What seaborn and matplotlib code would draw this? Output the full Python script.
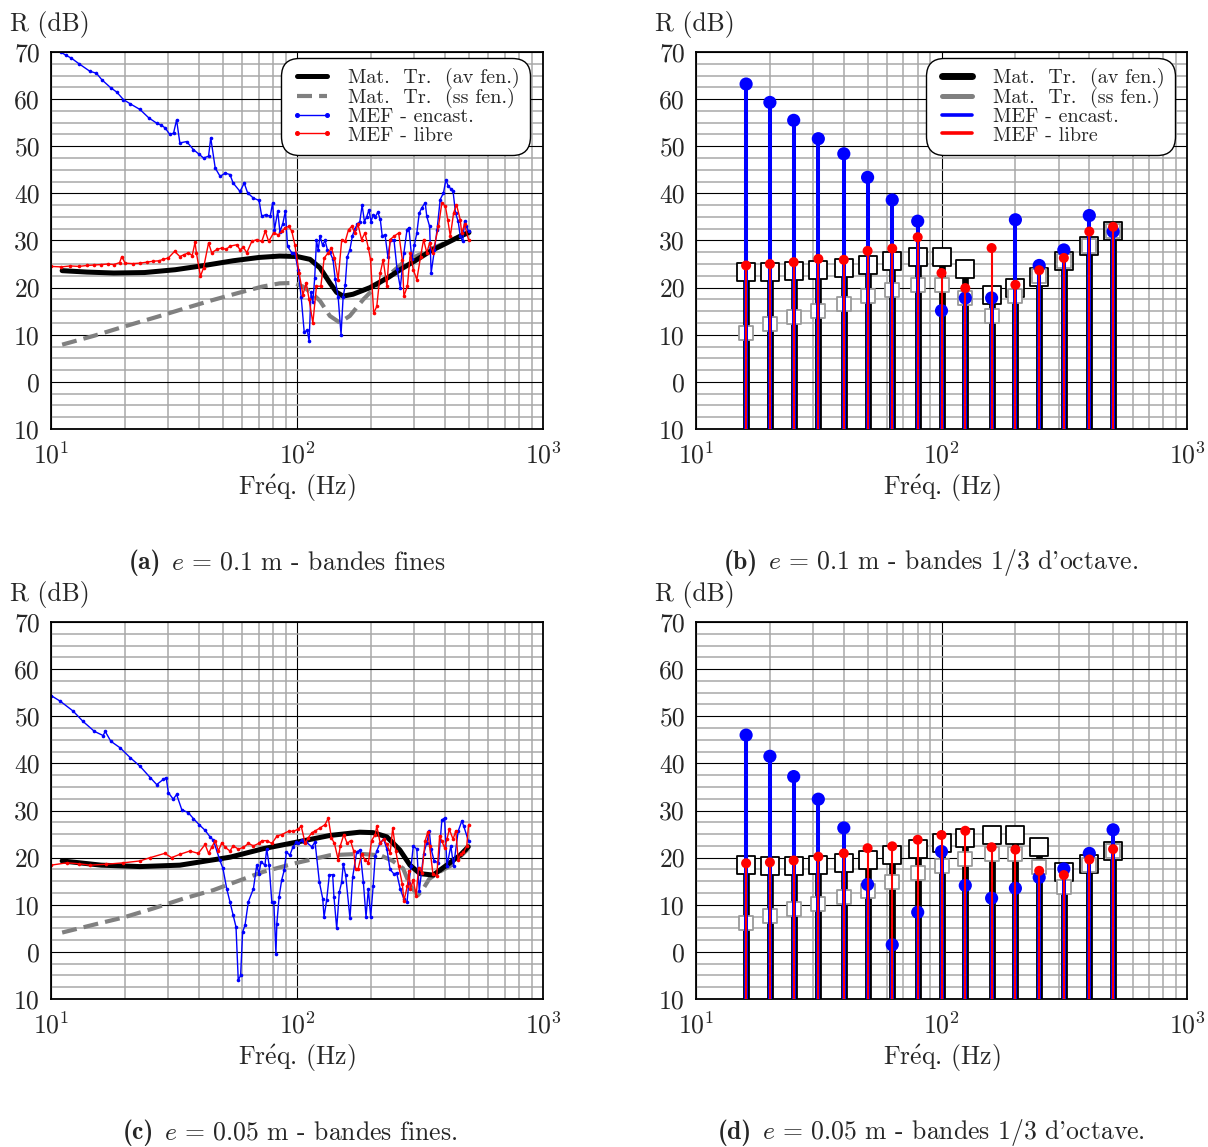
import numpy as np
import seaborn as sns
import matplotlib.pyplot as plt
from matplotlib.lines import Line2D
from matplotlib.ticker import (LogLocator, MultipleLocator, FuncFormatter,
                               LogFormatterMathtext, NullFormatter)

sns.set_style("white")
plt.rcParams["font.family"] = ["cmr10", "DejaVu Serif"]
plt.rcParams["mathtext.fontset"] = "cm"
plt.rcParams["axes.formatter.use_mathtext"] = True


# ---- (a) e = 0.1 m, fine bands ----
fa_black = [11.1, 14, 18, 24, 32, 42, 55, 70, 85, 100, 113, 124, 136, 145, 154, 169,
            198, 234, 270, 300, 347, 400, 460, 500]
ra_black = [23.6, 23.3, 23.1, 23.2, 23.8, 24.7, 25.7, 26.4, 26.7, 26.6, 26.0, 24.2,
            21.0, 19.0, 18.2, 18.6, 20.0, 22.1, 24.2, 25.6, 27.7, 29.3, 30.9, 31.7]
fa_gray = [11.1, 15, 20, 27, 35, 45, 58, 72, 85, 97, 106, 116, 124, 136, 149, 164,
           186, 217, 270, 347, 430, 497]
ra_gray = [7.9, 9.8, 11.8, 13.8, 15.6, 17.3, 18.9, 20.2, 20.9, 21.0, 20.2, 18.6, 17.2,
           14.0, 12.6, 14.0, 17.5, 21.0, 25.3, 28.1, 30.2, 31.6]
fa_blue = [10.95, 11.5, 12.1, 13, 14.4, 15.3, 16.1, 17.5, 18.5, 19.7, 21, 23, 25, 26.9,
           28, 29.1, 30.4, 31.5, 32.4, 33.4, 35.6, 37.9, 40, 41.7, 43.7, 44.6, 46.5,
           48.7, 51, 53.4, 55, 58.7, 61, 63, 66.5, 70.1, 71.9, 74.5, 77.8, 79.6, 81,
           83.5, 85.2, 87.5, 89.7, 91.5, 95.2, 98, 101, 104, 107, 110, 112, 114, 116,
           118, 120, 122, 124, 127, 130, 133, 136, 140, 143, 147, 151, 154, 157, 160,
           164, 168, 172, 176, 180, 184, 188, 192, 196, 200, 204, 208, 213, 218, 222,
           228, 234, 240, 248, 255, 263, 272, 280, 285, 293, 300, 307, 314, 322, 332,
           337, 346, 351, 362, 371, 382, 394, 403, 412, 422, 431, 441, 452, 461, 472,
           480, 488, 498]
ra_blue = [70.0, 69.3, 68.7, 67.5, 65.9, 65.5, 64.1, 62.4, 61.5, 59.9, 59.0, 57.8, 56.0,
           54.9, 54.5, 53.9, 52.5, 52.8, 55.6, 50.7, 51.0, 49.3, 48.3, 47.5, 47.9, 51.8,
           45.4, 43.6, 44.3, 44.0, 42.2, 40.4, 42.2, 40.1, 39.0, 38.5, 35.1, 35.5, 35.1,
           38.0, 32.3, 36.2, 31.9, 33.5, 36.2, 28.8, 27.4, 27.4, 23.8, 18.0, 10.5, 11.0,
           8.7, 19.0, 17.0, 22.0, 30.0, 28.0, 31.0, 29.0, 30.0, 28.0, 27.5, 26.0, 21.8,
           18.0, 10.0, 18.0, 20.5, 26.5, 28.0, 31.0, 32.5, 33.5, 34.0, 37.5, 34.0, 35.0,
           36.5, 34.0, 35.5, 35.0, 36.0, 34.5, 31.0, 31.2, 26.6, 30.2, 30.0, 24.0, 20.0,
           27.4, 32.3, 32.7, 26.0, 29.0, 31.6, 35.8, 37.0, 38.0, 35.1, 33.0, 23.1, 28.0,
           32.3, 38.7, 40.1, 42.9, 41.5, 41.0, 40.4, 35.8, 34.1, 30.9, 29.8, 34.1, 33.0,
           32.0]
fa_red = [10, 11, 12, 13, 14, 15, 16, 17, 18, 19, 19.4, 20, 21.5, 23, 24.5, 26, 27.5,
          28.6, 30, 31.8, 33.4, 34.8, 36.2, 37.5, 38.5, 39, 40.5, 41.7, 43.7, 45, 47.2,
          49.4, 51.5, 53.4, 56.9, 58.7, 60.5, 62.5, 65.5, 68.6, 71.9, 74.3, 76.7, 80.3,
          84, 87, 89.7, 92.5, 95.2, 98, 102, 105.7, 109, 112, 116, 120, 125, 129, 134,
          138, 142, 147, 152, 157, 162, 167, 172, 177, 183, 189, 195, 199, 205, 211, 218,
          224, 232, 239, 248, 259, 268, 272, 281, 289, 297, 307, 318, 327, 337, 346, 357,
          376, 388, 401, 410, 420, 433, 445, 461, 467, 480, 498]
ra_red = [24.5, 24.4, 24.6, 24.5, 24.7, 24.8, 24.9, 25.0, 24.9, 25.3, 26.6, 25.2, 25.1,
          25.2, 25.4, 25.6, 25.7, 26.0, 26.3, 27.7, 26.6, 27.0, 27.4, 26.8, 29.6, 27.4,
          22.4, 24.2, 29.5, 27.4, 28.1, 28.4, 28.1, 28.8, 29.1, 28.0, 28.6, 27.4, 29.8,
          30.2, 29.8, 32.0, 29.8, 31.6, 31.2, 32.0, 32.7, 33.0, 32.0, 29.1, 23.1, 18.5,
          21.0, 17.5, 12.5, 20.3, 20.3, 26.3, 27.4, 28.4, 26.3, 21.7, 30.2, 29.8, 32.3,
          33.0, 31.6, 33.4, 30.2, 31.6, 28.4, 26.0, 14.6, 16.0, 23.1, 25.9, 20.3, 30.2,
          30.9, 31.6, 25.9, 18.2, 20.3, 27.4, 23.8, 21.7, 26.6, 30.2, 27.4, 29.5, 27.4,
          33.0, 38.0, 37.3, 34.4, 30.9, 35.8, 37.6, 34.4, 31.6, 33.4, 30.2]

# ---- (c) e = 0.05 m, fine bands ----
fc_black = [11.1, 16, 23, 33.4, 53.5, 73, 100, 136, 180, 204, 232, 262, 288, 316, 358,
            406, 460, 497]
rc_black = [19.3, 18.4, 18.1, 18.4, 20.1, 21.9, 23.3, 24.7, 25.4, 25.3, 24.4, 21.6, 18.4,
            16.6, 16.3, 18.4, 20.5, 22.3]
fc_gray = [11.1, 15, 19.7, 26, 34.5, 45.7, 58, 73, 100, 136, 180, 218, 245, 270, 288,
           310, 326, 345, 380, 425, 497]
rc_gray = [4.1, 5.8, 7.3, 9.2, 11.3, 13.1, 15.1, 17.0, 18.9, 20.5, 20.8, 20.5, 19.3, 17.7,
           14.1, 12.0, 13.4, 15.5, 17.0, 18.4, 21.9]
fc_blue = [10, 10.9, 12.3, 13.5, 15, 16.3, 16.6, 17.5, 19.1, 21, 23, 25.3, 26.9, 28.6,
           29.4, 30, 31.4, 32.4, 34, 36.2, 37.9, 40, 42.3, 44.3, 45.7, 48.6, 50, 51.8,
           53.4, 55, 56.5, 57.7, 59, 60.1, 61.5, 63.4, 66.5, 68.6, 70, 71.4, 74.1, 75.3,
           77, 79, 80.5, 82.1, 82.8, 84.6, 86.6, 88.7, 90.6, 93.5, 96.3, 99.5, 101.3,
           104.4, 106.5, 109, 114.8, 118.4, 123.3, 127.2, 128.8, 132, 135.3, 139.6,
           141.3, 145, 148.6, 151.9, 154.2, 157.7, 164.2, 168.4, 174.8, 180.3, 186.1,
           190.8, 195, 199.3, 204, 208, 211, 218, 225, 232, 239, 248, 254, 263, 272, 280,
           285, 291, 297, 307, 314, 327, 337, 345, 351, 361, 376, 388, 398, 407, 422, 433,
           452, 468, 476, 498]
rc_blue = [54.4, 53.2, 51.1, 48.9, 46.8, 45.9, 46.8, 44.7, 43.3, 41.2, 39.4, 37.0, 35.5,
           36.6, 37.0, 33.8, 32.4, 33.4, 30.2, 29.5, 28.3, 27.0, 25.8, 24.4, 23.7, 19.4,
           17.7, 13.4, 10.6, 7.8, 5.3, -6.0, -5.0, 4.2, 5.7, 10.6, 13.4, 18.4, 16.6, 19.1,
           18.4, 21.9, 18.5, 10.6, 10.6, -0.4, 6.0, 11.7, 15.2, 17.3, 21.2, 20.5, 22.3,
           23.3, 23.0, 23.7, 23.3, 23.3, 22.3, 23.3, 14.8, 11.3, 7.4, 11.0, 16.3, 16.4,
           11.7, 5.0, 12.7, 14.8, 18.7, 16.3, 7.1, 15.9, 21.2, 21.6, 14.8, 7.4, 13.4, 7.4,
           14.0, 20.4, 21.4, 23.2, 23.9, 21.8, 17.5, 16.5, 16.8, 13.3, 11.2, 10.5, 14.7,
           18.2, 22.5, 21.8, 12.9, 20.7, 23.2, 25.6, 21.8, 19.3, 18.9, 28.0, 28.4, 18.2,
           22.5, 18.2, 25.6, 27.8, 26.7, 23.5]
fc_red = [10, 11.6, 13, 14.4, 16.8, 19.7, 23, 25.3, 29, 30.9, 33.4, 36.7, 39.7, 42.3,
          43.7, 45, 46.5, 47.9, 49.5, 51, 53.4, 55, 57.8, 60.6, 63.5, 66.5, 69.8, 72,
          75.5, 79, 83, 86.7, 92.5, 96.7, 101, 104, 108, 111, 115, 118, 124, 130, 134,
          138, 142, 147, 150, 155, 160, 165, 170, 173, 177, 183, 189, 195, 201, 208, 211,
          218, 225, 232, 239, 245, 252, 259, 268, 272, 281, 285, 289, 297, 305, 312, 322,
          332, 340, 346, 357, 370, 380, 388, 398, 407, 416, 431, 442, 452, 463, 475, 490,
          498]
rc_red = [18.4, 18.9, 18.7, 18.4, 18.6, 18.9, 19.3, 20.0, 20.9, 20.0, 20.7, 21.4, 20.9,
          22.8, 20.9, 22.2, 23.6, 21.4, 23.2, 22.2, 21.4, 22.5, 21.8, 22.2, 23.0, 22.5,
          23.0, 23.6, 23.6, 23.0, 24.6, 24.9, 25.6, 25.6, 26.0, 26.7, 23.0, 24.2, 25.3,
          25.6, 26.3, 27.0, 28.4, 24.2, 23.0, 19.6, 22.5, 24.9, 23.0, 23.6, 21.4, 17.5,
          17.5, 20.7, 19.6, 18.9, 23.6, 24.9, 26.7, 23.0, 23.9, 22.8, 20.9, 26.3, 21.4,
          18.2, 14.4, 10.8, 14.0, 17.2, 13.3, 15.3, 11.8, 17.9, 16.8, 23.6, 25.4, 22.5,
          16.5, 16.1, 24.6, 23.5, 22.1, 23.9, 26.0, 23.9, 25.7, 19.6, 20.7, 21.1, 22.5,
          26.9]

# ---- third-octave bands, (b) and (d) ----
bands = [16, 20, 25, 31.5, 40, 50, 63, 80, 100, 125, 160, 200, 250, 315, 400, 500]
b_av = [23.3, 23.3, 23.5, 23.7, 24.2, 24.9, 25.7, 26.4, 26.4, 24.0, 18.5, 19.9, 22.2, 25.6, 28.9, 32.1]
b_ss = [10.4, 12.3, 13.8, 15.1, 16.5, 18.2, 19.6, 20.6, 20.6, 17.8, 13.9, 18.3, 22.4, 25.6, 28.9, 32.1]
b_enc = [63.2, 59.3, 55.5, 51.6, 48.4, 43.4, 38.6, 34.1, 15.1, 17.8, 17.8, 34.4, 24.7, 28.0, 35.3, 31.9]
b_lib = [24.7, 25.0, 25.4, 26.1, 25.9, 27.8, 28.3, 30.7, 23.1, 19.9, 28.4, 20.6, 23.7, 26.3, 31.9, 32.9]
d_av = [18.4, 18.2, 18.3, 18.4, 18.9, 19.6, 20.6, 21.8, 23.1, 24.1, 24.9, 24.9, 22.3, 16.9, 18.7, 21.3]
d_ss = [6.2, 7.7, 9.1, 10.2, 11.6, 13.0, 14.9, 16.8, 18.3, 19.7, 20.8, 20.8, 18.0, 13.7, 18.4, 21.3]
d_enc = [46.0, 41.5, 37.2, 32.4, 26.3, 14.3, 1.5, 8.4, 21.3, 14.1, 11.4, 13.5, 15.8, 17.6, 20.9, 25.9]
d_lib = [18.8, 19.0, 19.4, 20.2, 20.9, 22.0, 22.4, 23.8, 24.8, 25.7, 22.2, 21.7, 17.2, 16.3, 19.6, 21.8]

labels = ["Mat.  Tr.  (av fen.)", "Mat.  Tr.  (ss fen.)", "MEF - encast.", "MEF - libre"]
cap_tags = ["(a)", "(b)", "(c)", "(d)"]
cap_texts = [r"$e\, =\, 0.1$ m - bandes fines",
             r"$e\, =\, 0.1$ m - bandes 1/3 d'octave.",
             r"$e\, =\, 0.05$ m - bandes fines.",
             r"$e\, =\, 0.05$ m - bandes 1/3 d'octave."]

GRAY = "#808080"
DASH = (0, (3.6, 1.7))
FS = 18.5

W, H = 1208, 1147
fig = plt.figure(figsize=(W / 100, H / 100), dpi=100)


def make_axes(x0, y0, x1, y1):
    return fig.add_axes([x0 / W, 1 - y1 / H, (x1 - x0) / W, (y1 - y0) / H])


def style(ax):
    ax.set_xscale("log")
    ax.set_xlim(10, 1000)
    ax.set_ylim(-10, 70)
    ax.xaxis.set_major_locator(LogLocator(base=10, numticks=5))
    ax.xaxis.set_minor_locator(LogLocator(base=10, subs=np.arange(2, 10), numticks=20))
    ax.xaxis.set_major_formatter(LogFormatterMathtext())
    ax.xaxis.set_minor_formatter(NullFormatter())
    ax.yaxis.set_major_locator(MultipleLocator(10))
    ax.yaxis.set_minor_locator(MultipleLocator(2.5))
    ax.yaxis.set_major_formatter(FuncFormatter(lambda v, p: f"{abs(v):.0f}"))
    ax.grid(which="minor", color="#a8a8a8", lw=1.1)
    ax.grid(which="major", color="black", lw=0.8)
    ax.set_axisbelow(True)
    ax.tick_params(which="both", length=0, labelsize=FS)
    ax.tick_params(axis="x", pad=9)
    ax.tick_params(axis="y", pad=8)
    for s in ax.spines.values():
        s.set_color("black")
        s.set_linewidth(1.3)
    ax.set_xlabel(r"Fr$\acute{\mathrm{e}}$q. (Hz)", fontsize=FS, labelpad=3)
    ax.set_ylabel("")


def add_legend(ax, handles, right_px):
    leg = ax.legend(handles, labels, loc="upper right",
                    bbox_to_anchor=(right_px / W, 1 - 58 / H),
                    bbox_transform=fig.transFigure, fontsize=14.5, frameon=True,
                    fancybox=True, framealpha=1, edgecolor="black",
                    borderpad=0.5, labelspacing=0.0, handlelength=2.1,
                    handletextpad=0.75, numpoints=2, borderaxespad=0)
    frame = leg.get_frame()
    frame.set_linewidth(1.0)
    frame.set_boxstyle("round,pad=0,rounding_size=0.9")
    leg.set_zorder(20)


def fine_panel(ax, fb, rb, fg, rg, fbl, rbl, fr, rr, legend=False):
    sns.lineplot(x=fg, y=rg, ax=ax, color=GRAY, lw=3, linestyle=DASH,
                 estimator=None, sort=False)
    sns.lineplot(x=fb, y=rb, ax=ax, color="black", lw=3.6,
                 estimator=None, sort=False)
    sns.lineplot(x=fbl, y=rbl, ax=ax, color="blue", lw=1.0, marker="o", ms=2.6,
                 markeredgewidth=0, estimator=None, sort=False)
    sns.lineplot(x=fr, y=rr, ax=ax, color="red", lw=1.0, marker="o", ms=2.6,
                 markeredgewidth=0, estimator=None, sort=False)
    style(ax)
    if legend:
        handles = [Line2D([], [], color="black", lw=3.6),
                   Line2D([], [], color=GRAY, lw=3, linestyle=DASH),
                   Line2D([], [], color="blue", lw=1, marker="o", ms=2.6),
                   Line2D([], [], color="red", lw=1, marker="o", ms=2.6)]
        add_legend(ax, handles, 530)


def band_panel(ax, av, ss, enc, lib, legend=False):
    ax.vlines(bands, -10, ss, color=GRAY, lw=4.8, zorder=2)
    ax.vlines(bands, -10, av, color="black", lw=4.8, zorder=3)
    sns.scatterplot(x=bands, y=av, ax=ax, marker="s", s=180, color="white",
                    edgecolor="black", linewidth=1.3, zorder=4)
    sns.scatterplot(x=bands, y=ss, ax=ax, marker="s", s=90, color="white",
                    edgecolor="#9a9a9a", linewidth=1.3, zorder=5)
    ax.vlines(bands, -10, enc, color="blue", lw=2.9, zorder=6)
    sns.scatterplot(x=bands, y=enc, ax=ax, marker="o", s=90, color="blue",
                    edgecolor="none", zorder=7)
    ax.vlines(bands, -10, lib, color="red", lw=1.5, zorder=8)
    sns.scatterplot(x=bands, y=lib, ax=ax, marker="o", s=52, color="red",
                    edgecolor="none", zorder=9)
    style(ax)
    if legend:
        handles = [Line2D([], [], color="black", lw=5),
                   Line2D([], [], color=GRAY, lw=3.6),
                   Line2D([], [], color="blue", lw=2.6),
                   Line2D([], [], color="red", lw=2.6)]
        add_legend(ax, handles, 1175)


ax_a = make_axes(51, 52, 543, 429)
ax_b = make_axes(696, 52, 1187, 429)
ax_c = make_axes(51, 622, 543, 999)
ax_d = make_axes(696, 622, 1187, 999)

fine_panel(ax_a, fa_black, ra_black, fa_gray, ra_gray, fa_blue, ra_blue, fa_red, ra_red,
           legend=True)
band_panel(ax_b, b_av, b_ss, b_enc, b_lib, legend=True)
fine_panel(ax_c, fc_black, rc_black, fc_gray, rc_gray, fc_blue, rc_blue, fc_red, rc_red)
band_panel(ax_d, d_av, d_ss, d_enc, d_lib)

# "R (dB)" titles above each y axis
for x, y in [(10, 24), (655, 24), (10, 595), (655, 595)]:
    fig.text(x / W, 1 - y / H, "R (dB)", fontsize=FS, ha="left", va="center")

# sub-figure captions: bold tag + normal text, centred as a whole
renderer = fig.canvas.get_renderer()
gap = 10
for (cx, cy), tag, txt in zip([(287, 563), (931, 563), (290, 1133), (931, 1133)],
                              cap_tags, cap_texts):
    t1 = fig.text(0, 1 - cy / H, tag, fontsize=FS, family=["cmb10", "DejaVu Serif"],
                  ha="left", va="center")
    t2 = fig.text(0, 1 - cy / H, txt, fontsize=FS, ha="left", va="center")
    w1 = t1.get_window_extent(renderer).width
    w2 = t2.get_window_extent(renderer).width
    x0 = cx - (w1 + gap + w2) / 2
    t1.set_x(x0 / W)
    t2.set_x((x0 + w1 + gap) / W)

fig.savefig("out.png", dpi=100)
